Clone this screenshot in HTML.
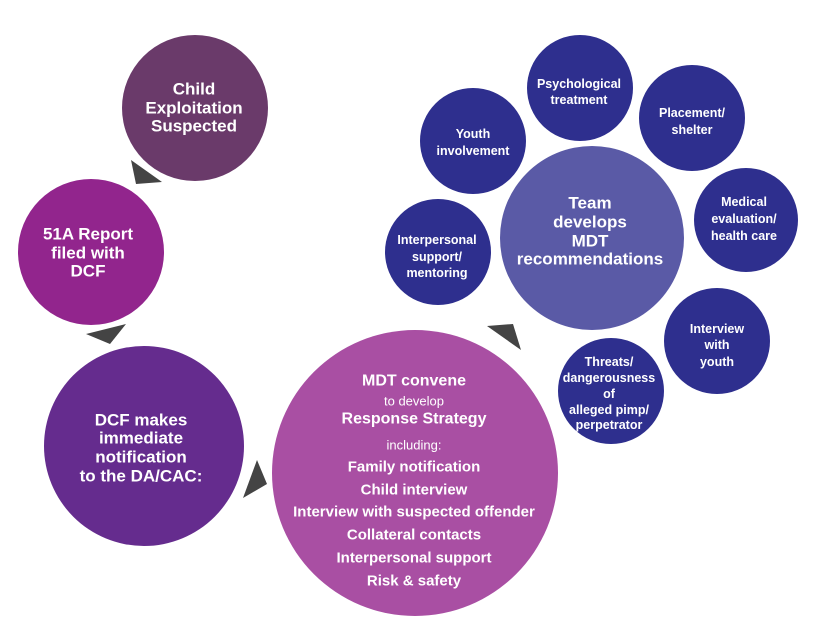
<!DOCTYPE html>
<html><head><meta charset="utf-8"><style>
html,body{margin:0;padding:0;background:#fff;}
svg text{font-family:"Liberation Sans Narrow","Liberation Sans",sans-serif;font-weight:bold;fill:#fff;text-anchor:middle;dominant-baseline:central;}
.n{font-weight:normal;}
</style></head><body>
<svg width="817" height="631" viewBox="0 0 817 631" xmlns="http://www.w3.org/2000/svg">
<circle cx="195" cy="108" r="73" fill="#6a3a6a"/>
<circle cx="91" cy="252" r="73" fill="#92258d"/>
<circle cx="144" cy="446" r="100" fill="#652c8e"/>
<circle cx="415" cy="473" r="143" fill="#a94fa3"/>
<circle cx="592" cy="238" r="92" fill="#5a5aa6"/>
<g fill="#2e2f8e">
<circle cx="473" cy="141" r="53"/>
<circle cx="580" cy="88" r="53"/>
<circle cx="692" cy="118" r="53"/>
<circle cx="746" cy="220" r="52"/>
<circle cx="438" cy="252" r="53"/>
<circle cx="717" cy="341" r="53"/>
<circle cx="611" cy="391" r="53"/>
</g>
<g fill="#444">
<polygon points="131,160 162,182 136,184"/>
<polygon points="86,334 126,324 110,344"/>
<polygon points="243,498 257,460 267,484"/>
<polygon points="487,326 521,350 513,324"/>
</g>
<g font-size="17"><text x="194" y="89">Child</text><text x="194" y="108">Exploitation</text><text x="194" y="126">Suspected</text></g>
<g font-size="17"><text x="88" y="234">51A Report</text><text x="88" y="253">filed with</text><text x="88" y="271">DCF</text></g>
<g font-size="17"><text x="141" y="420">DCF makes</text><text x="141" y="438">immediate</text><text x="141" y="457">notification</text><text x="141" y="476">to the DA/CAC:</text></g>
<g font-size="16"><text x="414" y="381">MDT convene</text><text class="n" x="414" y="401" font-size="13">to develop</text><text x="414" y="419">Response Strategy</text><text class="n" x="414" y="445" font-size="13">including:</text>
<g font-size="15"><text x="414" y="467">Family notification</text><text x="414" y="490">Child interview</text><text x="414" y="512">Interview with suspected offender</text><text x="414" y="535">Collateral contacts</text><text x="414" y="558">Interpersonal support</text><text x="414" y="581">Risk &amp; safety</text></g></g>
<g font-size="17"><text x="590" y="203">Team</text><text x="590" y="222">develops</text><text x="590" y="241">MDT</text><text x="590" y="259">recommendations</text></g>
<g font-size="12.5">
<text x="473" y="134">Youth</text><text x="473" y="151">involvement</text>
<text x="579" y="84">Psychological</text><text x="579" y="100">treatment</text>
<text x="692" y="113">Placement/</text><text x="692" y="130">shelter</text>
<text x="744" y="202">Medical</text><text x="744" y="219">evaluation/</text><text x="744" y="236">health care</text>
<text x="437" y="240">Interpersonal</text><text x="437" y="257">support/</text><text x="437" y="273">mentoring</text>
<text x="717" y="329">Interview</text><text x="717" y="345">with</text><text x="717" y="362">youth</text>
<text x="609" y="362">Threats/</text><text x="609" y="378">dangerousness</text><text x="609" y="394">of</text><text x="609" y="410">alleged pimp/</text><text x="609" y="425">perpetrator</text>
</g>
</svg>
</body></html>
